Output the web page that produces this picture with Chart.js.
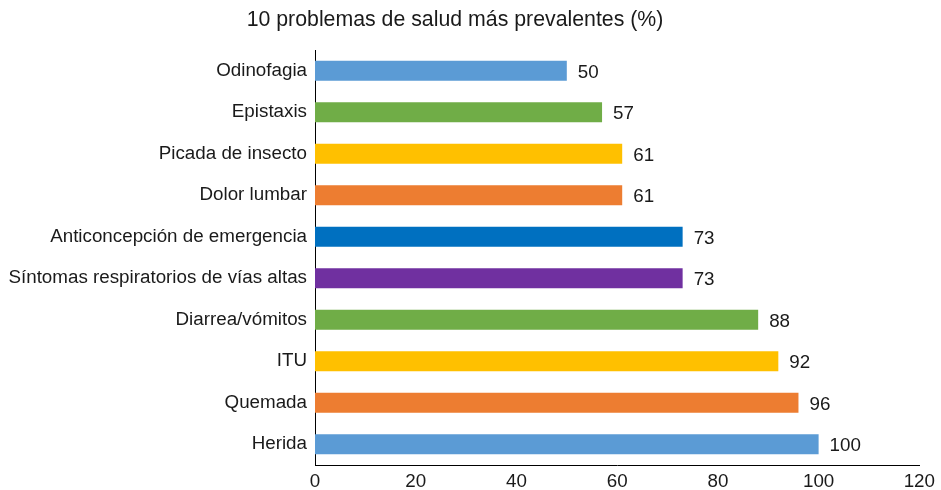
<!DOCTYPE html>
<html>
<head>
<meta charset="utf-8">
<script src="https://cdn.jsdelivr.net/npm/chart.js@4"></script>
<style>
  html, body { margin: 0; padding: 0; background: #fff; }
  #wrap { width: 941px; height: 490px; }
</style>
</head>
<body>
<div id="wrap"><canvas id="c" width="941" height="490"></canvas></div>
<script>
const chartTitle = "10 problemas de salud más prevalentes (%)";
const categories = [
  "Odinofagia",
  "Epistaxis",
  "Picada de insecto",
  "Dolor lumbar",
  "Anticoncepción de emergencia",
  "Síntomas respiratorios de vías altas",
  "Diarrea/vómitos",
  "ITU",
  "Quemada",
  "Herida"
];
const values = [50, 57, 61, 61, 73, 73, 88, 92, 96, 100];
const barColors = [
  "#5B9BD5", "#70AD47", "#FFC000", "#ED7D31", "#0070C0",
  "#7030A0", "#70AD47", "#FFC000", "#ED7D31", "#5B9BD5"
];
const xTicks = [0, 20, 40, 60, 80, 100, 120];

const FONT = "'Liberation Sans', Arial, Helvetica, sans-serif";
const TEXT = "#1a1a1a";
const LABEL_SIZE = 18.8;

const valueLabels = {
  id: "valueLabels",
  afterDatasetsDraw(chart) {
    const ctx = chart.ctx;
    const meta = chart.getDatasetMeta(0);
    ctx.save();
    ctx.font = LABEL_SIZE + "px " + FONT;
    ctx.fillStyle = TEXT;
    ctx.textAlign = "left";
    ctx.textBaseline = "middle";
    meta.data.forEach((bar, i) => {
      ctx.fillText(String(values[i]), bar.x + 11, bar.y + 2);
    });
    ctx.restore();
  }
};

const titlePlugin = {
  id: "customTitle",
  afterDraw(chart) {
    const ctx = chart.ctx;
    ctx.save();
    ctx.font = "21.3px " + FONT;
    ctx.fillStyle = TEXT;
    ctx.textAlign = "center";
    ctx.textBaseline = "middle";
    ctx.fillText(chartTitle, 455, 20);
    ctx.restore();
  }
};

new Chart(document.getElementById("c"), {
  type: "bar",
  data: {
    labels: categories,
    datasets: [{
      data: values,
      backgroundColor: barColors,
      borderWidth: 0,
      categoryPercentage: 1.0,
      barPercentage: 0.48
    }]
  },
  options: {
    indexAxis: "y",
    responsive: false,
    animation: false,
    layout: { padding: { top: 50, right: 19, left: 0, bottom: 0 } },
    plugins: {
      legend: { display: false },
      title: { display: false },
      tooltip: { enabled: false }
    },
    scales: {
      x: {
        min: 0,
        max: 120,
        afterBuildTicks(scale) { scale.ticks = xTicks.map(v => ({ value: v })); },
        grid: { display: false, drawTicks: false },
        border: { display: true, color: "#000", width: 1 },
        ticks: {
          color: TEXT,
          font: { size: LABEL_SIZE, family: FONT },
          padding: 6,
          maxRotation: 0
        },
        afterFit(scale) { scale.height = 25; }
      },
      y: {
        grid: { display: false, drawTicks: false },
        border: { display: true, color: "#000", width: 1 },
        ticks: {
          color: TEXT,
          font: { size: LABEL_SIZE, family: FONT },
          padding: 8,
          autoSkip: false
        },
        afterFit(scale) { scale.width = 315; }
      }
    }
  },
  plugins: [valueLabels, titlePlugin]
});
</script>
</body>
</html>
